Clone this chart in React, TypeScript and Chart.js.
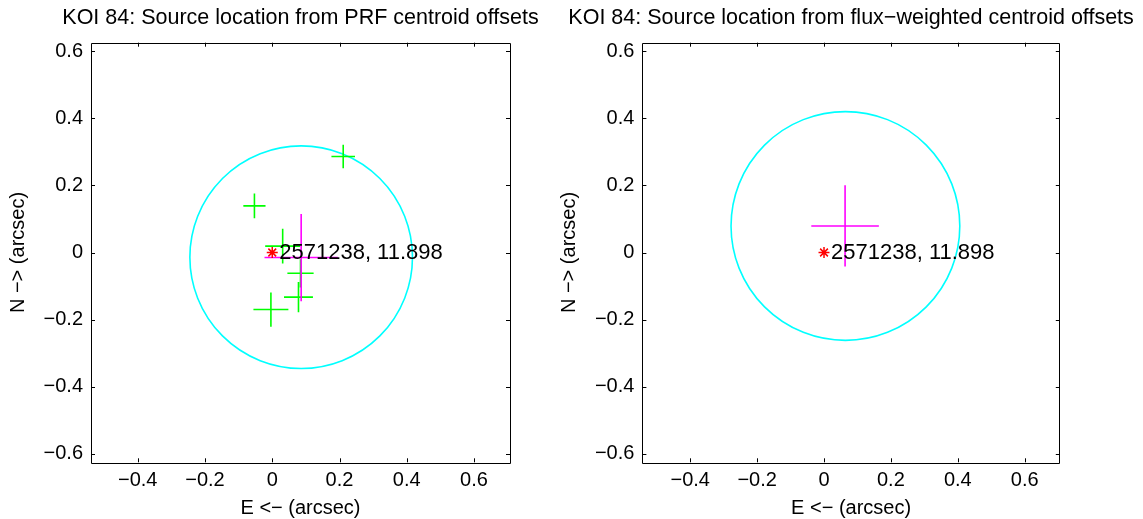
import React, { useEffect, useRef } from "react";
import { Chart, registerables } from "chart.js";

Chart.register(...registerables);

const FONT = "'Liberation Sans', Arial, Helvetica, sans-serif";

// Target star: position (arcsec) and its label (KIC id, Kepler magnitude)
const targetPos = [0, 0];
const targetLabel = "2571238, 11.898";

// PRF centroid offsets, one fit per quarter (arcsec), with 1-sigma errors
const prfOffsetX = [0.211, -0.053, 0.031, 0.084, 0.078, -0.004];
const prfOffsetY = [0.286, 0.139, 0.019, -0.062, -0.133, -0.17];
const prfSigmaX = [0.035, 0.033, 0.052, 0.039, 0.043, 0.052];
const prfSigmaY = [0.035, 0.037, 0.052, 0.042, 0.045, 0.051];
// PRF weighted mean offset and its error
const prfMean = [0.086, -0.015];
const prfMeanSigma = [0.109, 0.13];
// PRF 3-sigma uncertainty circle: centre x, centre y, radius
const prfCircle = [0.086, -0.014, 0.331];

// Flux-weighted centroid mean offset, its error, and uncertainty circle
const fwMean = [0.063, 0.079];
const fwMeanSigma = [0.101, 0.121];
const fwCircle = [0.064, 0.079, 0.342];

// Axis limits and tick positions
const prfXRange = [-0.539, 0.707];
const fwXRange = [-0.543, 0.705];
const yRange = [-0.625, 0.625];
const xTicks = [-0.4, -0.2, 0, 0.2, 0.4, 0.6];
const yTicks = [-0.6, -0.4, -0.2, 0, 0.2, 0.4, 0.6];

const titles = [
  "KOI 84: Source location from PRF centroid offsets",
  "KOI 84: Source location from flux\u2212weighted centroid offsets",
];

const fmtTick = (v: number) =>
  v === 0 ? "0" : (v < 0 ? "\u2212" : "") + Math.abs(v).toFixed(1);

// Builds "+" shaped error crosses as line segments separated by gaps
function crossSegments(xs: number[], ys: number[], sx: number[], sy: number[]) {
  const pts: { x: number; y: number | null }[] = [];
  xs.forEach((x, i) => {
    pts.push({ x: x - sx[i], y: ys[i] }, { x: x + sx[i], y: ys[i] }, { x, y: null });
    pts.push({ x, y: ys[i] - sy[i] }, { x, y: ys[i] + sy[i] }, { x, y: null });
  });
  return pts;
}

// Box frame with inward ticks on all four sides, the panel title centred
// over the plot box, and the target label
const framePlugin = {
  id: "frameTicks",
  afterDatasetsDraw(chart: any, _args: any, opts: any) {
    const { ctx, chartArea, scales } = chart;
    const { left, right, top, bottom } = chartArea;
    const tl = 4;
    ctx.save();
    ctx.strokeStyle = "#000";
    ctx.lineWidth = 1;
    ctx.beginPath();
    ctx.rect(Math.round(left) + 0.5, Math.round(top) + 0.5, Math.round(right - left), Math.round(bottom - top));
    scales.x.ticks.forEach((t: any) => {
      const px = Math.round(scales.x.getPixelForValue(t.value)) + 0.5;
      ctx.moveTo(px, bottom);
      ctx.lineTo(px, bottom - tl);
      ctx.moveTo(px, top);
      ctx.lineTo(px, top + tl);
    });
    scales.y.ticks.forEach((t: any) => {
      const py = Math.round(scales.y.getPixelForValue(t.value)) + 0.5;
      ctx.moveTo(left, py);
      ctx.lineTo(left + tl, py);
      ctx.moveTo(right, py);
      ctx.lineTo(right - tl, py);
    });
    ctx.stroke();

    ctx.fillStyle = "#000";
    ctx.textBaseline = "middle";

    ctx.font = `21.5px ${FONT}`;
    ctx.textAlign = "center";
    ctx.fillText(opts.title, (left + right) / 2, 18);

    ctx.font = `22px ${FONT}`;
    ctx.textAlign = "left";
    ctx.fillText(
      targetLabel,
      scales.x.getPixelForValue(targetPos[0]) + 7,
      scales.y.getPixelForValue(targetPos[1])
    );
    ctx.restore();
  },
};

interface PanelSpec {
  title: string;
  xRange: number[];
  axisWidth: number;
  padRight: number;
  crosses: { x: number; y: number | null }[] | null;
  mean: number[];
  meanSigma: number[];
  circle: number[];
}

function makeConfig(p: PanelSpec): any {
  const circleRadius = (c: any) => {
    const s = c.chart.scales.x;
    if (!s) return 0;
    return Math.abs(s.getPixelForValue(p.circle[0] + p.circle[2]) - s.getPixelForValue(p.circle[0]));
  };

  const datasets: any[] = [
    {
      data: [{ x: targetPos[0], y: targetPos[1] }],
      pointStyle: "star",
      pointRadius: 5.5,
      pointBorderWidth: 1.5,
      pointBorderColor: "#ff0000",
      pointBackgroundColor: "#ff0000",
      showLine: false,
    },
    {
      data: crossSegments([p.mean[0]], [p.mean[1]], [p.meanSigma[0]], [p.meanSigma[1]]),
      borderColor: "#ff00ff",
      borderWidth: 1.6,
      pointRadius: 0,
      showLine: true,
      spanGaps: false,
    },
  ];
  if (p.crosses) {
    datasets.push({
      data: p.crosses,
      borderColor: "#00ff00",
      borderWidth: 1.6,
      pointRadius: 0,
      showLine: true,
      spanGaps: false,
    });
  }
  datasets.push({
    data: [{ x: p.circle[0], y: p.circle[1] }],
    pointStyle: "circle",
    pointRadius: circleRadius,
    pointBorderWidth: 1.6,
    pointBorderColor: "#00ffff",
    pointBackgroundColor: "rgba(0,0,0,0)",
    showLine: false,
  });

  const tickFont = { family: FONT, size: 20 };

  return {
    type: "scatter",
    data: { datasets },
    plugins: [framePlugin],
    options: {
      animation: false,
      responsive: false,
      devicePixelRatio: 1,
      events: [],
      layout: { padding: { left: 0, right: p.padRight, top: 42.7, bottom: 0 } },
      plugins: {
        legend: { display: false },
        tooltip: { enabled: false },
        title: { display: false },
        frameTicks: { title: p.title },
      },
      scales: {
        x: {
          type: "linear",
          min: p.xRange[0],
          max: p.xRange[1],
          afterBuildTicks: (s: any) => {
            s.ticks = xTicks.map((v) => ({ value: v }));
          },
          afterFit: (s: any) => {
            s.height = 56.7;
          },
          grid: { display: false, drawTicks: false },
          border: { display: false },
          ticks: {
            callback: (v: number) => fmtTick(v),
            color: "#000",
            font: tickFont,
            padding: 6,
            maxRotation: 0,
            autoSkip: false,
          },
          title: {
            display: true,
            text: "E <\u2212 (arcsec)",
            color: "#000",
            font: { family: FONT, size: 20, lineHeight: 1 },
            padding: { top: 0, bottom: 1 },
          },
        },
        y: {
          type: "linear",
          min: yRange[0],
          max: yRange[1],
          afterBuildTicks: (s: any) => {
            s.ticks = yTicks.map((v) => ({ value: v }));
          },
          afterFit: (s: any) => {
            s.width = p.axisWidth;
          },
          grid: { display: false, drawTicks: false },
          border: { display: false },
          ticks: {
            callback: (v: number) => fmtTick(v),
            color: "#000",
            font: tickFont,
            padding: 8,
            autoSkip: false,
          },
          title: {
            display: true,
            text: "N \u2212> (arcsec)",
            color: "#000",
            font: { family: FONT, size: 20, lineHeight: 1.2 },
            padding: { top: 6, bottom: 0 },
          },
        },
      },
    },
  };
}

export default function App() {
  const leftRef = useRef<HTMLCanvasElement | null>(null);
  const rightRef = useRef<HTMLCanvasElement | null>(null);

  useEffect(() => {
    const charts: Chart[] = [];
    if (leftRef.current) {
      charts.push(
        new Chart(
          leftRef.current,
          makeConfig({
            title: titles[0],
            xRange: prfXRange,
            axisWidth: 91,
            padRight: 41,
            crosses: crossSegments(prfOffsetX, prfOffsetY, prfSigmaX, prfSigmaY),
            mean: prfMean,
            meanSigma: prfMeanSigma,
            circle: prfCircle,
          })
        )
      );
    }
    if (rightRef.current) {
      charts.push(
        new Chart(
          rightRef.current,
          makeConfig({
            title: titles[1],
            xRange: fwXRange,
            axisWidth: 91.4,
            padRight: 83.2,
            crosses: null,
            mean: fwMean,
            meanSigma: fwMeanSigma,
            circle: fwCircle,
          })
        )
      );
    }
    return () => charts.forEach((c) => c.destroy());
  }, []);

  return (
    <div style={{ position: "absolute", left: 0, top: 0, width: 1143, height: 519, background: "#fff" }}>
      <canvas ref={leftRef} width={551} height={519} style={{ position: "absolute", left: 0, top: 0 }} />
      <canvas ref={rightRef} width={592} height={519} style={{ position: "absolute", left: 551, top: 0 }} />
    </div>
  );
}
